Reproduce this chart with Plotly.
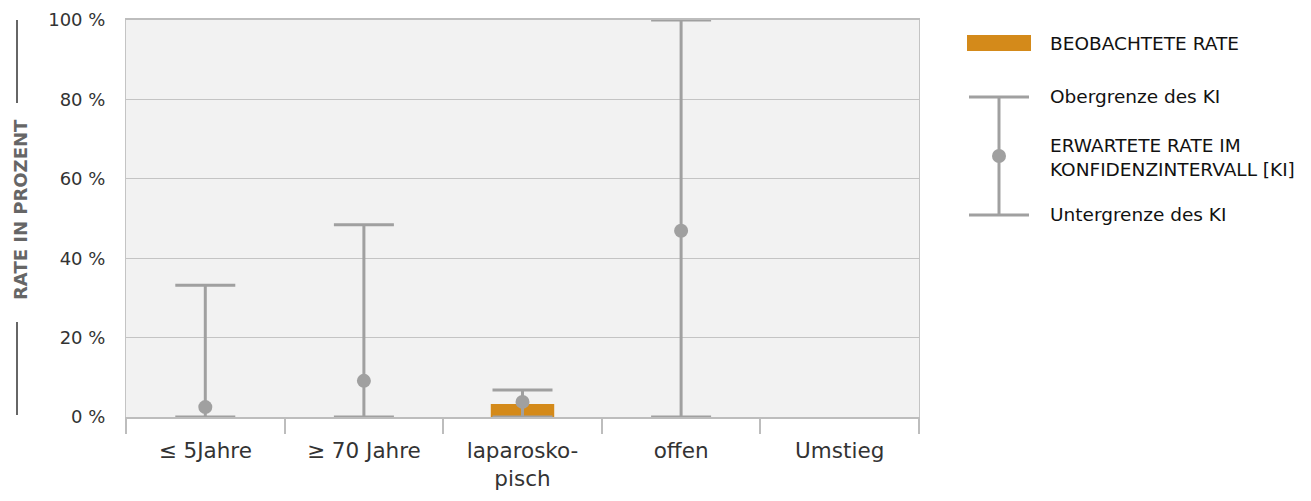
import plotly.graph_objects as go

# data (percent)
categories = ["≤ 5Jahre", "≥ 70 Jahre", "laparosko-<br>pisch", "offen", "Umstieg"]
observed = [None, None, 3.3, None, None]
expected = [2.5, 9.1, 3.8, 46.9, None]
upper = [33.2, 48.4, 6.8, 100.0, None]
lower = [0.0, 0.0, 0.0, 0.0, None]
y_ticks = [0, 20, 40, 60, 80, 100]
y_ticklabels = ["0 %", "20 %", "40 %", "60 %", "80 %", "100 %"]

ORANGE = "#d48a1a"
GREY = "#a0a0a0"
SANS = "DejaVu Sans, Verdana, sans-serif"

err_plus = [u - e if e is not None else None for u, e in zip(upper, expected)]
err_minus = [e - l if e is not None else None for e, l in zip(expected, lower)]

fig = go.Figure()

fig.add_trace(go.Bar(
    x=categories,
    y=observed,
    marker_color=ORANGE,
    marker_line_width=0,
    width=0.4,
    showlegend=False,
))

fig.add_trace(go.Scatter(
    x=categories,
    y=expected,
    mode="markers",
    marker=dict(color=GREY, size=14),
    error_y=dict(type="data", array=err_plus, arrayminus=err_minus,
                 color=GREY, thickness=3, width=30),
    showlegend=False,
))

# the page adds an 8px body margin, so the plot area is placed relative to that
fig.update_layout(
    width=1311,
    height=501,
    margin=dict(l=118, r=400, t=12, b=92),
    paper_bgcolor="white",
    plot_bgcolor="#f2f2f2",
    font=dict(family=SANS, color="#333333", size=18),
)

fig.update_xaxes(
    type="category", automargin=False,
    showline=True, linecolor="#bdbdbd", linewidth=2, mirror=True,
    ticks="outside", tickson="boundaries", ticklen=15, tickcolor="#bdbdbd", tickwidth=2,
    ticklabelstandoff=13,
    showgrid=False,
    tickfont=dict(family=SANS, size=21.5, color="#333333"),
)
fig.update_yaxes(
    range=[0, 100], automargin=False,
    tickvals=y_ticks, ticktext=y_ticklabels,
    showgrid=True, gridcolor="#c4c4c4", gridwidth=1,
    showline=True, linecolor="#c4c4c4", linewidth=1, mirror=True,
    ticks="", ticklabelstandoff=16,
    zeroline=False,
    tickfont=dict(family=SANS, size=18, color="#333333"),
)


def px_x(p):
    return (p - 126) / 793


def px_y(p):
    return (417 - p) / 397


# rotated axis title with rules above and below
fig.add_annotation(
    xref="paper", yref="paper",
    x=px_x(20), y=px_y(210),
    text="<b>RATE IN PROZENT</b>", textangle=-90, showarrow=False,
    font=dict(family=SANS, size=18, color="#666666"),
    xanchor="center", yanchor="middle", borderpad=0,
)
for y0, y1 in [(20, 103), (322, 415)]:
    fig.add_shape(type="line", xref="paper", yref="paper",
                  x0=px_x(17), x1=px_x(17), y0=px_y(y0), y1=px_y(y1),
                  line=dict(color="#666666", width=2))

# legend drawn by hand
fig.add_shape(type="rect", xref="paper", yref="paper",
              x0=px_x(967), x1=px_x(1031), y0=px_y(35), y1=px_y(51),
              fillcolor=ORANGE, line_width=0)
fig.add_shape(type="line", xref="paper", yref="paper",
              x0=px_x(999), x1=px_x(999), y0=px_y(97), y1=px_y(215),
              line=dict(color=GREY, width=3))
for yy in (97, 215):
    fig.add_shape(type="line", xref="paper", yref="paper",
                  x0=px_x(969), x1=px_x(1029), y0=px_y(yy), y1=px_y(yy),
                  line=dict(color=GREY, width=3))
fig.add_shape(type="circle", xref="paper", yref="paper",
              x0=px_x(992), x1=px_x(1006), y0=px_y(149), y1=px_y(163),
              fillcolor=GREY, line_width=0)

legend_texts = [
    (43, "BEOBACHTETE RATE"),
    (97, "Obergrenze des KI"),
    (157, "ERWARTETE RATE IM<br>KONFIDENZINTERVALL [KI]"),
    (215, "Untergrenze des KI"),
]
for yy, txt in legend_texts:
    fig.add_annotation(xref="paper", yref="paper", x=px_x(1048), y=px_y(yy),
                       text=txt, showarrow=False, xanchor="left", yanchor="middle",
                       align="left", font=dict(family=SANS, size=18.5, color="#111111"))

fig.write_html("out.html")
